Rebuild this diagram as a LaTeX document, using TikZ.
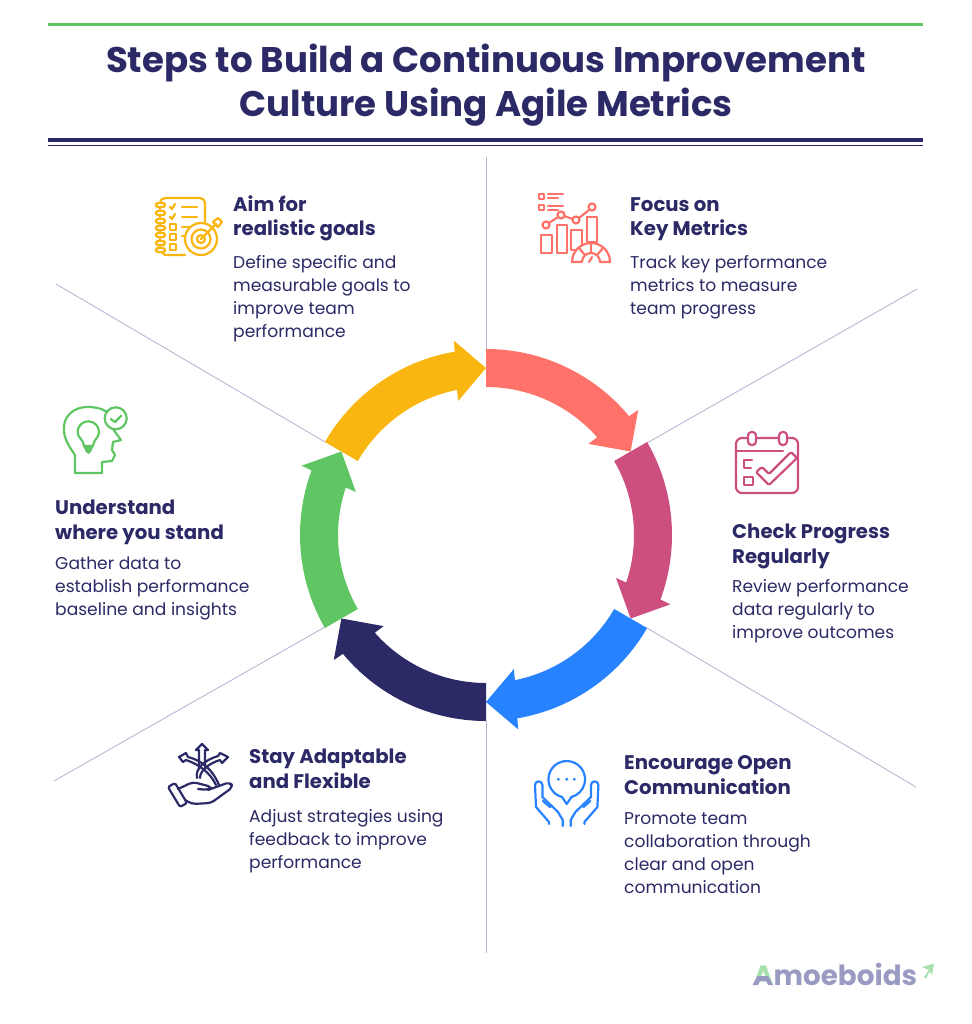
\documentclass[tikz,border=0pt]{standalone}
\usepackage{fontspec}
\setmainfont{Poppins}
\definecolor{navyc}{HTML}{2B2A66}
\definecolor{redc}{HTML}{FF7269}
\definecolor{magc}{HTML}{CC4F80}
\definecolor{bluec}{HTML}{2782FF}
\definecolor{greenc}{HTML}{60C664}
\definecolor{goldc}{HTML}{F9B510}
\definecolor{linec}{HTML}{B9B7D3}
\definecolor{logoc}{HTML}{9A9BC2}
\definecolor{logog}{HTML}{A5E0AE}
\tikzset{
    titletxt/.style = {anchor=base, text=navyc, inner sep=0, font=\fontsize{35.6}{44}\selectfont\bfseries},
    headtxt/.style = {anchor=base west, text=navyc, inner sep=0, align=left, font=\fontsize{19.7}{24.5}\selectfont\bfseries},
    bodytxt/.style = {anchor=base west, text=navyc, inner sep=0, align=left, font=\fontsize{17.1}{23}\selectfont},
    divider/.style = {linec, line width=0.9},
    icon/.style = {line width=2.2, line join=round, line cap=round, fill=none}
}
\begin{document}
\begin{tikzpicture}[x=1pt, y=1pt, yscale=-1]
    \useasboundingbox (0,0) rectangle (971,1024);

    % title and rules
    \draw[greenc, line width=2.7] (48,24.5) -- (923,24.5);
    \node[titletxt] (title1) at (486,73) {Steps to Build a Continuous Improvement};
    \node[titletxt] (title2) at (486,117) {Culture Using Agile Metrics};
    \draw[navyc, line width=4] (48,140) -- (923,140);
    \draw[navyc, line width=1.5] (48,145.3) -- (923,145.3);

    % dividers
    \draw[divider] (486,157) -- (486,349);
    \draw[divider] (486,721) -- (486,953);
    \draw[divider] (917,289) -- (647,443);
    \draw[divider] (916,787) -- (647,628);
    \draw[divider] (54,781) -- (325,627);
    \draw[divider] (56,284) -- (325,442);

    % ring of arrows
    \begin{scope}[shift={(486,535)}]
        \foreach \a/\col in {-90/redc, -30/magc, 30/bluec, 90/navyc, 150/greenc, 210/goldc}
            \fill[\col] (\a:186) arc[start angle=\a, end angle=\a+50.3, radius=186]
                -- ({\a+50.6}:197) -- ({\a+60}:167) -- ({\a+48.3}:137) -- ({\a+48.7}:148)
                arc[start angle=\a+48.7, end angle=\a, radius=148] -- cycle;
    \end{scope}

    % texts
    \node[headtxt] (aimh) at (233,236) {Aim for\\realistic goals};
    \node[bodytxt] (aimb) at (233,337) {Define specific and\\measurable goals to\\improve team\\performance};
    \node[headtxt] (focush) at (630,236) {Focus on\\Key Metrics};
    \node[bodytxt] (focusb) at (630,314) {Track key performance\\metrics to measure\\team progress};
    \node[headtxt] (checkh) at (732,563) {Check Progress\\Regularly};
    \node[bodytxt] (checkb) at (732,638) {Review performance\\data regularly to\\improve outcomes};
    \node[headtxt] (openh) at (624,794) {Encourage Open\\Communication};
    \node[bodytxt] (openb) at (624,893) {Promote team\\collaboration through\\clear and open\\communication};
    \node[headtxt] (stayh) at (249,788) {Stay Adaptable\\and Flexible};
    \node[bodytxt] (stayb) at (249,868) {Adjust strategies using\\feedback to improve\\performance};
    \node[headtxt] (standh) at (55,539) {Understand\\where you stand};
    \node[bodytxt] (standb) at (55,615) {Gather data to\\establish performance\\baseline and insights};

    % notebook and target
    \begin{scope}[icon, goldc]
        \draw (185,255) -- (165,255) -- (160,250) -- (160,203) arc[start angle=180, end angle=270, radius=5] -- (200,198) arc[start angle=270, end angle=360, radius=5] -- (205,222);
        \foreach \y in {205,213,221,228,235,243,250}
            \draw[fill=white, rounded corners=1.5] (156,\y-2) rectangle (165,\y+2);
        \foreach \y in {207,217} {
            \draw (170,\y) -- (172,\y+2) -- (175,\y-3);
            \draw (182,\y) -- (197,\y);
        }
        \foreach \y in {227,237,247}
            \draw (170,\y-3) rectangle (176,\y+3);
        \draw (182,227) -- (190,227);
        \draw (182,236) -- (186,236);
        \draw[fill=white] (201,239) circle (16);
        \draw (201,239) circle (9.5);
        \draw (201,239) circle (4);
        \draw (201,239) -- (216,224);
        \draw (213,222) -- (218,218) -- (222,222) -- (218,227) -- cycle;
    \end{scope}

    % list, charts and gauge
    \begin{scope}[icon, redc]
        \draw (539,194) rectangle (544,199);
        \draw (539,205) rectangle (544,210);
        \foreach \y/\w in {194/563, 198/558, 206/563, 210/558}
            \draw (548,\y) -- (\w,\y);
        \draw (541,235) rectangle (552,253);
        \draw (557,225) rectangle (567,253);
        \draw (571,230) rectangle (582,250);
        \draw (587,217) rectangle (597,242);
        \draw (549,223) -- (558,217);
        \draw (564,216) -- (573,219);
        \draw (579,218) -- (589,210);
        \foreach \x/\y in {546/225, 561/215, 576/220, 592/207}
            \draw[fill=white] (\x,\y) circle (3.5);
        \draw[fill=white] (572,262) arc[start angle=180, end angle=360, radius=19] -- (600,262) arc[start angle=0, end angle=-180, radius=9] -- cycle;
        \draw (579,248) -- (584,254);
        \draw (591,243) -- (591,252);
        \draw (603,248) -- (598,254);
        \draw (589,262) -- (592,257);
    \end{scope}

    % calendar
    \begin{scope}[icon, magc]
        \draw[rounded corners=6] (736,438) rectangle (798,493);
        \draw (736,451) -- (783,451);
        \foreach \x in {752,783}
            \draw[fill=white, rounded corners=3.5] (\x-4,432) rectangle (\x+4,445);
        \draw (752,460) -- (744,460) -- (744,468) -- (751,468);
        \draw (744,477) rectangle (753,485);
        \draw[fill=white, rounded corners=1.5] (756,472) -- (762,467) -- (769,474) -- (791,452) -- (797,458) -- (769,485) -- cycle;
    \end{scope}

    % hands and speech bubble
    \begin{scope}[icon, bluec]
        \draw (566.7,804) -- (562,797) arc[start angle=105, end angle=435, radius=18.3] -- cycle;
        \foreach \x in {558.3,566.7,574.3}
            \fill[bluec] (\x,779.3) circle (1.6);
        \foreach \s in {1,-1} {
            \begin{scope}[shift={(566.7,0)}, xscale=\s]
                \draw (-17.7,824) -- (-17.7,822) -- (-30.7,807) -- (-31.7,785) arc[start angle=180, end angle=360, radius=3.7] -- (-24.3,797) -- (-8.7,812) -- (-4,820) -- (-4,826);
                \draw (-23.7,801) -- (-16.7,807);
            \end{scope}
        }
    \end{scope}

    % hand and three ways
    \begin{scope}[icon, navyc]
        \draw (199,769) -- (199,750) -- (196,750) -- (202,744) -- (208,750) -- (205,750) -- (205,769);
        \draw (183,762) -- (179,757) -- (186,753) -- (188,757) .. controls (200,760) and (212,768) .. (219,785);
        \draw (183,762) -- (186,760) .. controls (198,764) and (210,772) .. (216,785);
        \draw (228,757) -- (220,753) -- (218,756) .. controls (205,760) and (195,768) .. (197,778);
        \draw (228,757) -- (222,763) -- (220,760) .. controls (210,763) and (200,770) .. (200,778);
        \draw[fill=white, rounded corners=1.5] (168,787) -- (175,783) -- (187,803) -- (180,807) -- cycle;
        \draw[fill=white, rounded corners=4] (178,789) -- (193,782) -- (212,787) -- (208,790) -- (198,789);
        \draw[rounded corners=4] (208,790) -- (230,782) -- (233,787) -- (211,803) -- (192,804) -- (185,800);
    \end{scope}

    % head with bulb
    \begin{scope}[icon, greenc]
        \draw (75,473) -- (75,455) .. controls (68,445) and (63,437) .. (64,426) .. controls (65,414) and (76,407) .. (87,407) .. controls (95,407) and (101,408) .. (107,412);
        \draw (113,429) -- (121,440) -- (113,442) -- (112,450) -- (115,455) -- (112,461) -- (102,462) -- (102,473) -- (75,473);
        \draw (115.7,418.3) circle (11);
        \draw (110.7,419) -- (115,422) -- (121,416);
        \draw (84,446) .. controls (84,440) and (77.6,438) .. (77.6,432) arc[start angle=180, end angle=360, radius=10.7] .. controls (99,438) and (93,440) .. (93,446) -- cycle;
        \fill[greenc] (83,446) -- (93.5,446) -- (91,452) -- (88.5,454) -- (86,452) -- cycle;
    \end{scope}

    % logo
    \node[anchor=base west, inner sep=0, text=logoc, font=\fontsize{27.8}{30}\selectfont\bfseries] (logo) at (753,985) {{\color{logog}A}moeboids};
    \fill[logoc] (752.5,985) -- (757.5,976) -- (768,976) -- (773,985) -- (768.5,985) -- (766,981) -- (760,981) -- (757.5,985) -- cycle;
    \fill[logog] (924,977) -- (929,970) -- (922,967) -- (934,963.5) -- (932,975) -- (929.5,971.5) -- (926,978.5) -- cycle;
\end{tikzpicture}
\end{document}
